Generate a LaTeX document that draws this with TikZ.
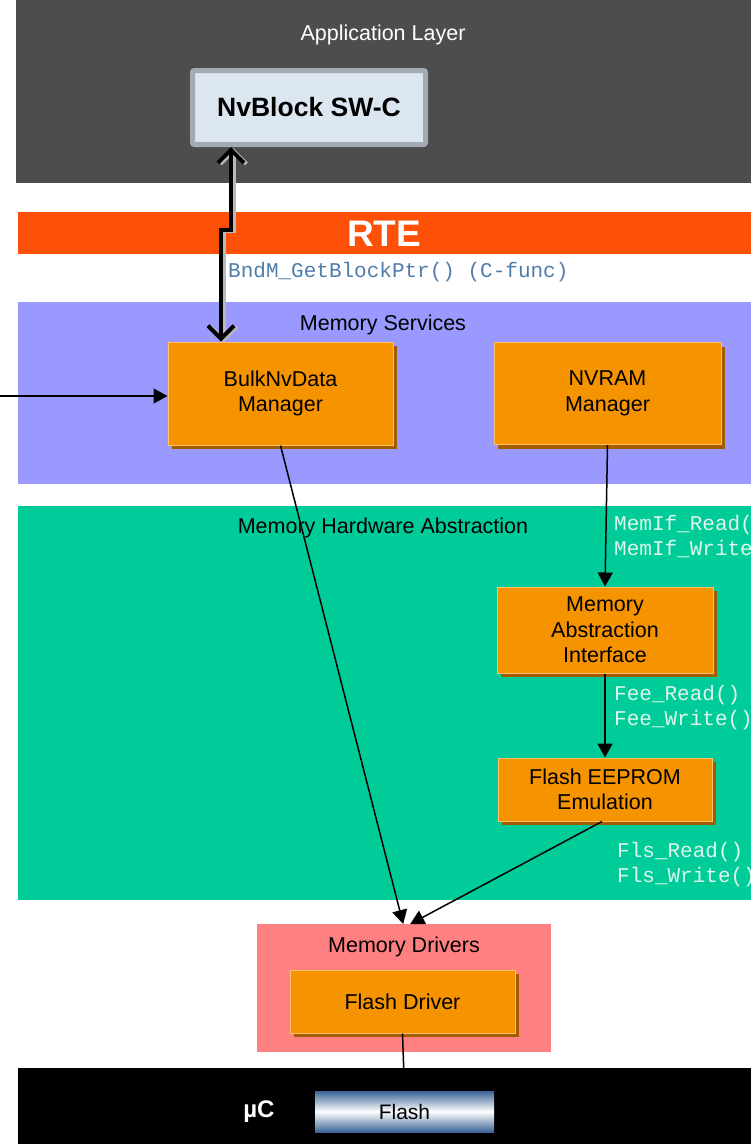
\documentclass[tikz,border=0pt]{standalone}
\usepackage{fontspec}
\setmainfont{Liberation Sans}
\setmonofont{Liberation Mono}
\usepackage{xcolor}
\usetikzlibrary{positioning, arrows.meta, shadows}

\definecolor{applgray}{HTML}{4D4D4D}
\definecolor{rtered}{HTML}{FF5008}
\definecolor{servblue}{HTML}{9999FF}
\definecolor{hwagreen}{HTML}{00CC99}
\definecolor{drvpink}{HTML}{FF8080}
\definecolor{boxorange}{HTML}{F59300}
\definecolor{boxlight}{HTML}{FFC06A}
\definecolor{boxshadow}{HTML}{A35C00}
\definecolor{swcfill}{HTML}{DCE6F0}
\definecolor{swcframe}{HTML}{A3AAB2}
\definecolor{apiblue}{HTML}{4F7DAB}
\definecolor{apimint}{HTML}{DDF7EC}
\definecolor{flashblue}{HTML}{3A6496}

\begin{document}
\begin{tikzpicture}[x=1pt, y=-1pt,
    layer/.style={rectangle, draw=none, inner sep=0pt, anchor=north west},
    layertitle/.style={font=\fontsize{21.5}{25.5}\selectfont},
    unit/.style={rectangle, fill=boxorange, draw=boxlight, line width=1pt, inner sep=0pt,
        align=center, font=\fontsize{21.5}{25.5}\selectfont,
        drop shadow={shadow xshift=4pt, shadow yshift=-4pt, fill=boxshadow, opacity=1}},
    api/.style={font=\ttfamily\fontsize{21}{25}\selectfont, align=left, inner sep=0pt, anchor=west},
    call/.style={-{Triangle[length=14pt,width=15pt]}, line width=1.5pt},
    swcarrow/.style={{Straight Barb[length=13pt,width=26pt]}-{Straight Barb[length=13pt,width=26pt]},
        line width=4pt, line cap=round, line join=miter,
        preaction={draw=gray!55, line width=4pt, transform canvas={xshift=2.5pt, yshift=-1pt}}}]
    \useasboundingbox (0,0) rectangle (751,1144);

    % layers
    \node[layer, fill=applgray, minimum width=735, minimum height=183] (appl) at (16,0) {};
    \node[layer, fill=rtered, minimum width=733, minimum height=42] (rte) at (18,212) {};
    \node[layer, fill=servblue, minimum width=733, minimum height=182] (serv) at (18,302) {};
    \node[layer, fill=hwagreen, minimum width=733, minimum height=394] (hwa) at (18,506) {};
    \node[layer, fill=drvpink, minimum width=294, minimum height=128] (memdrv) at (257,924) {};
    \node[layer, fill=black, minimum width=733, minimum height=76] (uc) at (18,1068) {};

    \node[layertitle, text=white] (appltitle) at (383,35) {Application Layer};
    \node[font=\bfseries\fontsize{37}{42}\selectfont, text=white] (rtetitle) at (384,234) {RTE};
    \node[layertitle] (servtitle) at (383,324.5) {Memory Services};
    \node[layertitle] (hwatitle) at (383,527.5) {Memory Hardware Abstraction};
    \node[layertitle] (drvtitle) at (404,946.5) {Memory Drivers};
    \node[font=\bfseries\fontsize{24}{28}\selectfont, text=white] (uctitle) at (259,1112) {µC};

    % modules
    \node[rectangle, rounded corners=2pt, fill=swcfill, draw=swcframe, line width=5pt,
        minimum width=233, minimum height=74, font=\bfseries\fontsize{26.5}{30}\selectfont]
        (nvblock) at (309,107.5) {NvBlock SW-C};
    \node[unit, minimum width=225, minimum height=103] (bulk) at (280.5,393.5) {BulkNvData\\Manager};
    \node[unit, minimum width=227, minimum height=102, right=100pt of bulk] (nvram) {NVRAM\\Manager};
    \node[unit, minimum width=216, minimum height=86] (memif) at (605,630) {Memory\\Abstraction\\Interface};
    \node[unit, minimum width=214, minimum height=63, below=84pt of memif] (fee) {Flash EEPROM\\Emulation};
    \node[unit, minimum width=225, minimum height=63] (flsdrv) at (402.5,1001.5) {Flash Driver};
    \node[rectangle, inner sep=0pt, minimum width=179, minimum height=41,
        top color=flashblue, bottom color=flashblue, middle color=white,
        font=\fontsize{21}{25}\selectfont] (flash) at (404.5,1111.5) {Flash};

    % interfaces
    \node[api, text=apiblue] (bndmapi) at (228,272) {BndM\_GetBlockPtr() (C-func)};
    \node[api, text=apimint] (memifapi) at (614,537.5) {MemIf\_Read()\\MemIf\_Write()};
    \node[api, text=apimint] (feeapi) at (614,707.5) {Fee\_Read()\\Fee\_Write()};
    \node[api, text=apimint] (flsapi) at (617,864.5) {Fls\_Read()\\Fls\_Write()};
    \coordinate (ext) at (0,396);

    \draw[swcarrow] ([xshift=-78pt]nvblock.south) -- ++(0,83) -| ([xshift=-59.5pt]bulk.north);
    \draw[call] (ext) -- (ext -| bulk.west);
    \draw[call] (bulk.south) -- ([xshift=-1pt]memdrv.north);
    \draw[call] (nvram.south) -- (memif.north);
    \draw[call] (memif.south) -- (fee.north);
    \draw[call] ([xshift=-3pt]fee.south) -- ([xshift=6pt]memdrv.north);
    \draw[line width=1.5pt] (flsdrv.south) -- (flash.north);
\end{tikzpicture}
\end{document}
